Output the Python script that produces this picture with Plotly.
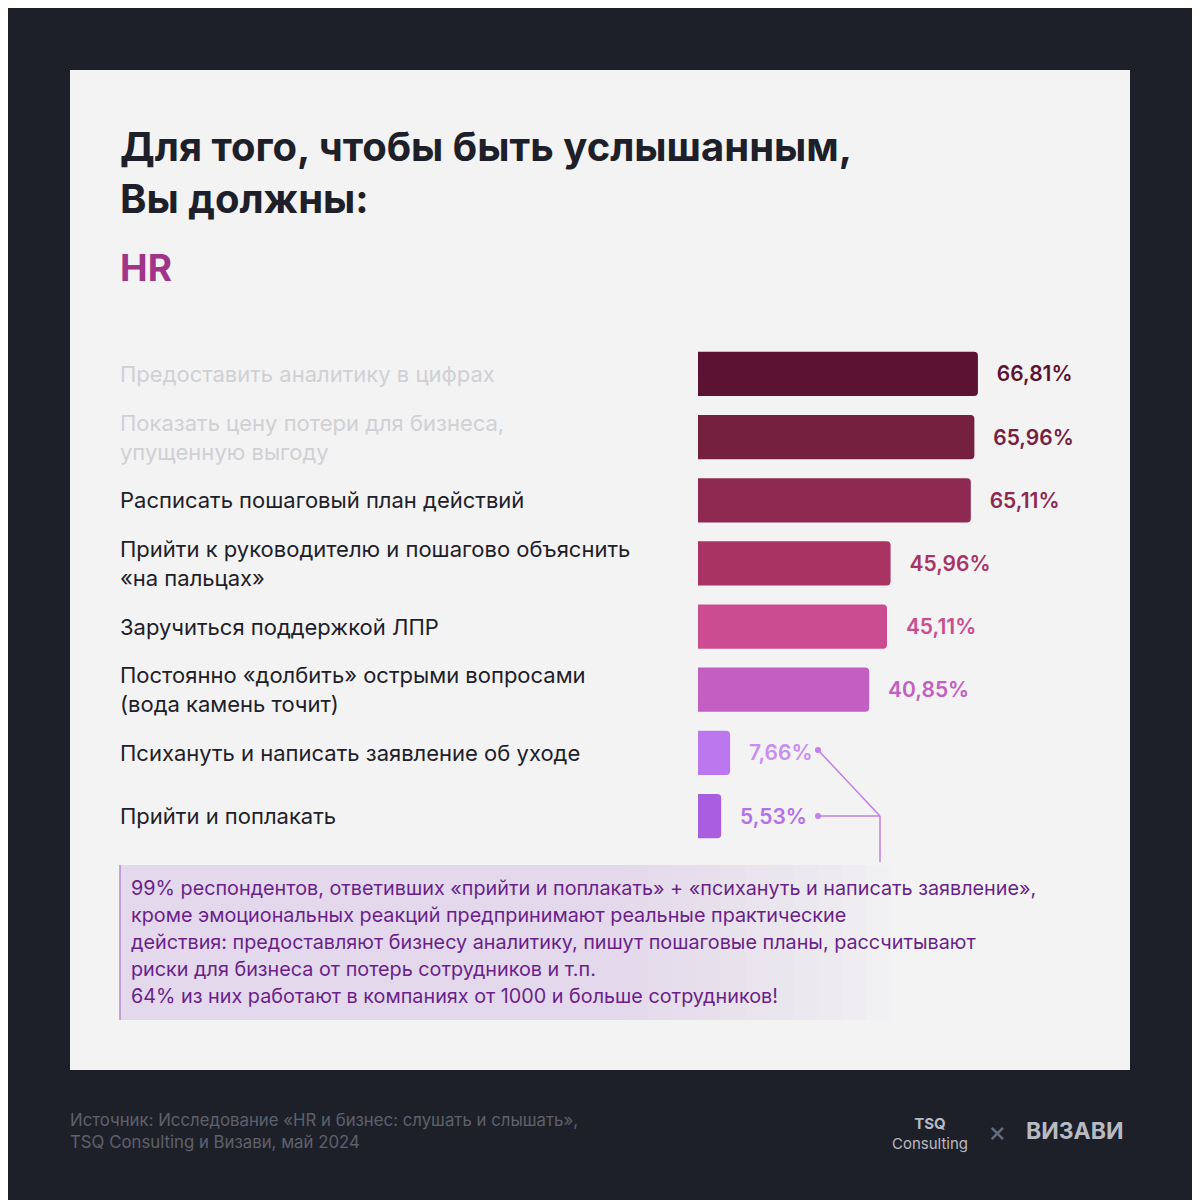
import plotly.graph_objects as go

categories = ["Предоставить аналитику в цифрах",
              "Показать цену потери для бизнеса,<br>упущенную выгоду",
              "Расписать пошаговый план действий",
              "Прийти к руководителю и пошагово объяснить<br>«на пальцах»",
              "Заручиться поддержкой ЛПР",
              "Постоянно «долбить» острыми вопросами<br>(вода камень точит)",
              "Психануть и написать заявление об уходе",
              "Прийти и поплакать"]
values = [66.81, 65.96, 65.11, 45.96, 45.11, 40.85, 7.66, 5.53]
colors = ["#5c1233", "#76203f", "#8e2a52", "#a93463", "#cc4c91", "#c35fc3", "#bd77ee", "#a95ee0"]
label_colors = ["#5c1233", "#76203f", "#8e2a52", "#a93463", "#cc4c91", "#c35fc3", "#c98ef0", "#b570e6"]
label_text_colors = ["#d0d0d4", "#d0d0d4"] + ["#1e2029"] * 6
note_lines = ["99% респондентов, ответивших «прийти и поплакать» + «психануть и написать заявление»,",
              "кроме эмоциональных реакций предпринимают реальные практические",
              "действия: предоставляют бизнесу аналитику, пишут пошаговые планы, рассчитывают",
              "риски для бизнеса от потерь сотрудников и т.п.",
              "64% из них работают в компаниях от 1000 и больше сотрудников!"]

OFF = 8
W = H = 1200 - OFF
def px(x): return (x - OFF) / W
def py(y): return 1 - (y - OFF) / H

FONT = "Inter"
NB = "\u00a0"
fig = go.Figure(go.Bar(
    x=values, y=categories, orientation="h",
    marker=dict(color=colors, cornerradius=4, line=dict(width=0)),
    width=0.7,
    text=[NB * 3 + f"{v:.2f}".replace(".", ",") + "%" for v in values],
    textposition="outside", cliponaxis=False,
    textfont=dict(color=label_colors, size=21, family=FONT, weight=600),
    hoverinfo="skip"))

fig.update_layout(
    width=W, height=H, margin=dict(l=0, r=0, t=0, b=0),
    paper_bgcolor="#1e2029", plot_bgcolor="rgba(0,0,0,0)",
    showlegend=False,
    xaxis=dict(domain=[px(698), px(1130)], range=[0, 432 / 4.19], visible=False),
    yaxis=dict(domain=[py(847.6), py(342.4)], autorange="reversed", visible=False,
               categoryorder="array", categoryarray=categories),
)

shapes = [
    dict(type="rect", xref="paper", yref="paper", x0=px(70), x1=px(1130), y0=py(1070), y1=py(70),
         fillcolor="#f3f3f3", line=dict(width=0), layer="below"),
]
steps = 12
for i in range(steps):
    x1 = 600 + (890 - 600) * (i + 1) / steps
    shapes.append(dict(type="rect", xref="paper", yref="paper", x0=px(120), x1=px(x1),
                       y0=py(1020), y1=py(865), fillcolor="rgba(222,196,236,0.05)",
                       line=dict(width=0), layer="below"))
shapes += [
    dict(type="line", xref="paper", yref="paper", x0=px(120), x1=px(120), y0=py(1020), y1=py(865),
         line=dict(color="#b58ad0", width=1.5)),
    dict(type="line", xref="paper", yref="paper", x0=px(818), x1=px(880), y0=py(750), y1=py(816),
         line=dict(color="#c27fe6", width=1.5)),
    dict(type="line", xref="paper", yref="paper", x0=px(818), x1=px(880), y0=py(816), y1=py(816),
         line=dict(color="#c27fe6", width=1.5)),
    dict(type="line", xref="paper", yref="paper", x0=px(880), x1=px(880), y0=py(816), y1=py(862),
         line=dict(color="#c27fe6", width=1.5)),
]
for (cx, cy) in [(818, 750), (818, 816)]:
    shapes.append(dict(type="circle", xref="paper", yref="paper", x0=px(cx - 3), x1=px(cx + 3),
                       y0=py(cy + 3), y1=py(cy - 3), fillcolor="#c27fe6", line=dict(width=0)))
fig.update_layout(shapes=shapes)

ann = []
ann.append(dict(text="<b>Для того, чтобы быть услышанным,<br>Вы должны:</b>", x=px(118), y=py(120),
                xref="paper", yref="paper", xanchor="left", yanchor="top", showarrow=False, align="left",
                font=dict(size=40, color="#1e2029", family=FONT)))
ann.append(dict(text="<b>HR</b>", x=px(118), y=py(267), xref="paper", yref="paper", xanchor="left",
                yanchor="middle", showarrow=False, font=dict(size=37, color="#a0348a", family=FONT)))
for c, col in zip(categories, label_text_colors):
    ann.append(dict(text=c, x=px(118), y=c, xref="paper", yref="y", xanchor="left", yanchor="middle",
                    showarrow=False, align="left", font=dict(size=22, color=col, family=FONT)))
for i, line in enumerate(note_lines):
    ann.append(dict(text=line, x=px(129), y=py(888 + 27 * i), xref="paper", yref="paper", xanchor="left",
                    yanchor="middle", showarrow=False, font=dict(size=19.8, color="#6a1f8a", family=FONT)))
ann.append(dict(text="Источник: Исследование «HR и бизнес: слушать и слышать»,<br>TSQ Consulting и Визави, май 2024",
                x=px(68), y=py(1131), xref="paper", yref="paper", xanchor="left", yanchor="middle",
                showarrow=False, align="left", font=dict(size=16.8, color="#5e616c", family=FONT)))
ann.append(dict(text="<b>TSQ</b><br>Consulting", x=px(930), y=py(1133), xref="paper", yref="paper",
                xanchor="center", yanchor="middle",
                showarrow=False, align="center", font=dict(size=15, color="#b8bac2", family=FONT)))
ann.append(dict(text="×", x=px(997), y=py(1131), xref="paper", yref="paper", showarrow=False,
                xanchor="center", yanchor="middle", font=dict(size=28, color="#6a6d78", family=FONT)))
ann.append(dict(text="<b>ВИЗАВИ</b>", x=px(1024), y=py(1131), xref="paper", yref="paper", showarrow=False,
                xanchor="left", yanchor="middle", font=dict(size=23, color="#b8bac2", family=FONT)))
fig.update_layout(annotations=ann)

fig.write_html("out.html")
